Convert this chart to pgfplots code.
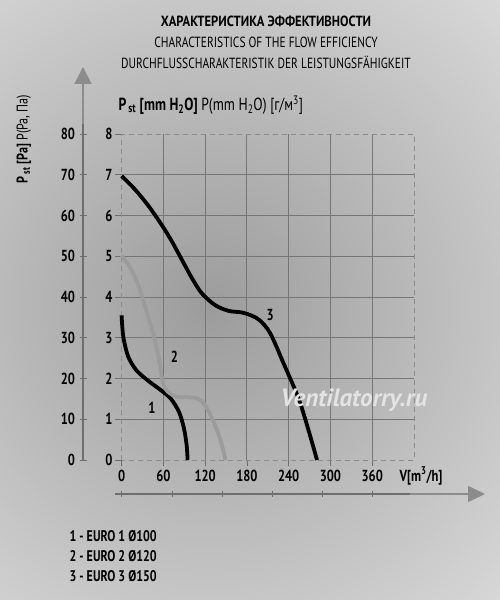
\documentclass[border=0pt]{standalone}
\usepackage{fontspec}
\setmainfont{PT Sans}[FakeStretch=0.78]
\newfontfamily\wmfont{PT Sans}
\usepackage{graphicx}
\usepackage{pgfplots}
\pgfplotsset{compat=1.18}
\usetikzlibrary{arrows.meta}
\definecolor{bgc}{RGB}{156,156,156}
\definecolor{bgo}{RGB}{236,236,236}
\definecolor{gridc}{RGB}{118,118,118}
\definecolor{axc}{RGB}{140,140,140}
\definecolor{axd}{RGB}{110,110,110}
\definecolor{curvetwo}{RGB}{155,155,155}
\begin{document}
\begin{tikzpicture}[x=1pt,y=1pt]
\useasboundingbox (0,0) rectangle (500,600);
\begin{scope}
\clip (0,0) rectangle (500,600);
\fill[bgo] (0,0) rectangle (500,600);
\shade[inner color=bgc, outer color=bgo] (210,295) circle (560);
\end{scope}

% titles
\node[font=\bfseries\fontsize{14.7}{17}\selectfont] at (266,579) {\scalebox{1.1}[1]{ХАРАКТЕРИСТИКА ЭФФЕКТИВНОСТИ}};
\node[font=\fontsize{14.7}{17}\selectfont] at (266,558) {CHARACTERISTICS OF THE FLOW EFFICIENCY};
\node[font=\fontsize{14.7}{17}\selectfont] at (266,538) {DURCHFLUSSCHARAKTERISTIK DER LEISTUNGSFÄHIGKEIT};

% decorative axis arrows
\draw[axd, line width=1.6pt] (83,140) -- (83,478);
\draw[axc, line width=1.6pt, -{Triangle[width=17pt,length=17pt]}] (83,476) -- (83,533);
\draw[axd, line width=1.6pt] (115,106) -- (412,106);
\draw[axc, line width=1.6pt, -{Triangle[width=16pt,length=17pt]}] (410,106) -- (485,106);
\foreach \x in {121,172,222,272,322,372} \draw[axd, line width=0.8pt] (\x,103) -- (\x,109);

% Pa scale
\begin{axis}[at={(83pt,140pt)}, anchor=south west, scale only axis,
  width=20pt, height=326pt, xmin=0, xmax=1, ymin=0, ymax=80,
  ytick={0,10,...,80}, xtick=\empty, ytick pos=left,
  tick align=center, major tick length=7pt,
  axis line style={draw=none},
  tick style={draw=axd, line width=0.8pt},
  yticklabel style={font=\bfseries\fontsize{16}{16}\selectfont, xshift=-1pt},
  /pgf/number format/assume math mode=true]
\end{axis}

% main chart
\begin{axis}[at={(121.6pt,140pt)}, anchor=south west, scale only axis,
  width=292.4pt, height=326pt,
  xmin=0, xmax=420, ymin=0, ymax=8,
  xtick={0,60,...,360}, ytick={0,1,...,8},
  xtick pos=left, ytick pos=left,
  tick align=outside, major tick length=6.5pt,
  tick style={draw=axd, line width=0.8pt},
  axis line style={draw=none},
  extra x ticks={60,120,...,360}, extra x tick labels={},
  extra y ticks={1,2,...,7}, extra y tick labels={},
  extra x tick style={grid=major, major tick length=0pt},
  extra y tick style={grid=major, major tick length=0pt},
  grid style={gridc, line width=0.9pt},
  tick label style={font=\bfseries\fontsize{16}{16}\selectfont},
  yticklabel style={xshift=1pt},
  /pgf/number format/assume math mode=true,
  clip=false]
\draw[axc, line width=0.9pt, dash pattern=on 5pt off 4pt] (axis cs:0,0) rectangle (axis cs:420,8);
\addplot[black, line width=3.8pt, smooth] coordinates {
 (0,3.55) (2.4,3.03) (9.4,2.54) (21.3,2.2) (37.8,1.95) (56.7,1.71) (70.9,1.5) (82.7,1.17) (89.8,0.76) (93.5,0.35) (94.8,0)};
\addplot[curvetwo, line width=3.8pt, smooth] coordinates {
 (0,5.02) (2.4,4.96) (14.2,4.67) (26,4.19) (37.8,3.54) (47.2,2.98) (54.3,2.41) (59,1.92) (66.1,1.68) (80.3,1.55) (104,1.53) (115.8,1.43) (127.6,1.11) (139.4,0.62) (146.5,0.21) (149,0)};
\addplot[black, line width=3.8pt, smooth] coordinates {
 (0,6.97) (19.2,6.64) (38.4,6.24) (57.6,5.77) (72,5.37) (86.4,4.92) (100.8,4.47) (115.2,4.09) (134.4,3.80) (153.6,3.66) (172.8,3.62) (187.2,3.54) (199,3.42) (213.5,3.11) (232.7,2.37) (256.7,1.39) (280.7,0)};
\node[font=\bfseries\fontsize{16}{16}\selectfont] at (axis cs:43.7,1.28) {1};
\node[font=\bfseries\fontsize{16}{16}\selectfont] at (axis cs:76,2.53) {2};
\node[font=\bfseries\fontsize{16}{16}\selectfont] at (axis cs:213.5,3.56) {3};
\end{axis}

% watermark
\node[font=\wmfont\bfseries\itshape\fontsize{25}{25}\selectfont, text=white!78!gray] at (354,200) {Ventilatorry.ru};

% labels
\node[anchor=west, font=\fontsize{17.5}{17.5}\selectfont] at (115,495) {\textbf{P\textsubscript{\,st} [mm H\textsubscript{2}O]} P(mm H\textsubscript{2}O) [г/м\textsuperscript{3}]};
\node[anchor=west, font=\bfseries\fontsize{16}{16}\selectfont] at (396,124) {V[m\textsuperscript{3}/h]};
\node[rotate=90, font=\fontsize{15.5}{15.5}\selectfont] at (24,461) {\textbf{P\textsubscript{\,st} [Pa]} P(Pa, Па)};

% legend
\node[anchor=west, font=\bfseries\fontsize{15.4}{15.4}\selectfont] at (66,64) {1 - EURO 1 Ø100};
\node[anchor=west, font=\bfseries\fontsize{15.4}{15.4}\selectfont] at (66,44) {2 - EURO 2 Ø120};
\node[anchor=west, font=\bfseries\fontsize{15.4}{15.4}\selectfont] at (66,24) {3 - EURO 3 Ø150};
\end{tikzpicture}
\end{document}
